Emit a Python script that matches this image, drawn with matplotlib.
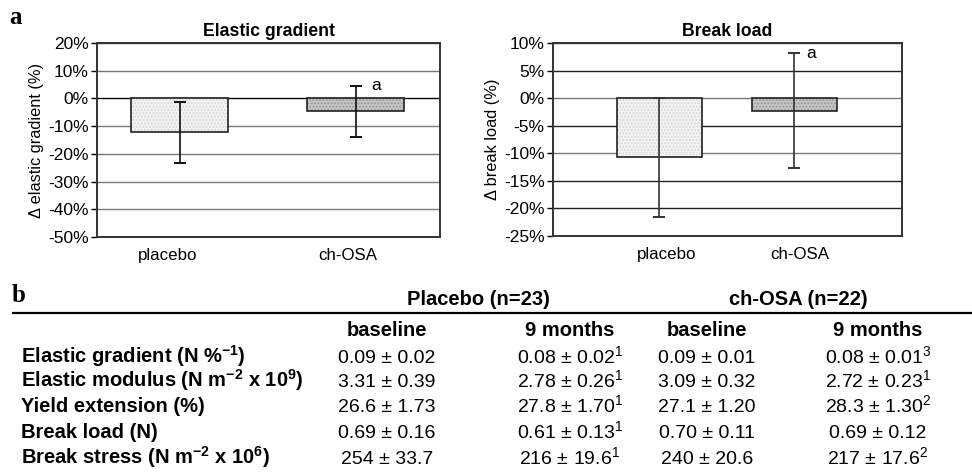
import matplotlib
matplotlib.use("Agg")
import matplotlib.pyplot as plt
from matplotlib.lines import Line2D

plt.rcParams['font.family'] = ['Liberation Sans', 'DejaVu Sans']
plt.rcParams['mathtext.fontset'] = 'custom'
plt.rcParams['mathtext.rm'] = 'Liberation Sans'
plt.rcParams['mathtext.it'] = 'Liberation Sans:italic'
plt.rcParams['mathtext.bf'] = 'Liberation Sans:bold'

# ---------------- data ----------------
categories = ['placebo', 'ch-OSA']
eg_mean = [-12.2, -4.7]
eg_err = [11.0, 9.2]
bl_mean = [-10.7, -2.3]
bl_err = [10.8, 10.4]
eg_ticks = [20, 10, 0, -10, -20, -30, -40, -50]
bl_ticks = [10, 5, 0, -5, -10, -15, -20, -25]
sig_label = ['', 'a']

group_headers = ['Placebo (n=23)', 'ch-OSA (n=22)']
sub_headers = ['baseline', '9 months', 'baseline', '9 months']
row_labels = [
    r'Elastic gradient (N %$^{\mathbf{-1}}$)',
    r'Elastic modulus (N m$^{\mathbf{-2}}$ x 10$^{\mathbf{9}}$)',
    'Yield extension (%)',
    'Break load (N)',
    r'Break stress (N m$^{\mathbf{-2}}$ x 10$^{\mathbf{6}}$)',
]
placebo_base = ['0.09 ± 0.02', '3.31 ± 0.39', '26.6 ± 1.73', '0.69 ± 0.16', '254 ± 33.7']
placebo_9m = ['0.08 ± 0.02', '2.78 ± 0.26', '27.8 ± 1.70', '0.61 ± 0.13', '216 ± 19.6']
placebo_9m_sup = ['1', '1', '1', '1', '1']
osa_base = ['0.09 ± 0.01', '3.09 ± 0.32', '27.1 ± 1.20', '0.70 ± 0.11', '240 ± 20.6']
osa_9m = ['0.08 ± 0.01', '2.72 ± 0.23', '28.3 ± 1.30', '0.69 ± 0.12', '217 ± 17.6']
osa_9m_sup = ['3', '1', '2', '', '2']

W, H = 972, 472
fig = plt.figure(figsize=(W / 100, H / 100), dpi=100)


def fx(px):
    return px / W


def fy(py):
    return 1 - py / H


def bar_panel(rect, means, errs, ticks, xlim, width, label_shift, title,
              ylabel, grid_colors, err_color):
    ax = fig.add_axes(rect)
    x = list(range(len(categories)))
    face = ['#f3f3f3', '#c6c6c6']
    hatchc = ['#d8d8d8', '#9a9a9a']
    for i in x:
        ax.bar(i, means[i], width, color=face[i], edgecolor=hatchc[i],
               hatch='.....', linewidth=0, zorder=2)
        ax.bar(i, means[i], width, fill=False, edgecolor='#222222',
               linewidth=1.2, zorder=3)
    ax.errorbar(x, means, yerr=errs, fmt='none', ecolor=err_color,
                elinewidth=1.2, capsize=4, capthick=1.4, zorder=4)
    for t, c in zip(ticks, grid_colors):
        ax.axhline(t, color=c, linewidth=1.0, zorder=1)
    for i in x:
        if sig_label[i]:
            ax.text(i + 0.09, means[i] + errs[i], sig_label[i],
                    fontsize=12.5, ha='left', va='center')
    ax.set_xlim(*xlim)
    ax.set_ylim(ticks[-1], ticks[0])
    ax.set_yticks(ticks)
    ax.set_yticklabels([f'{t}%' for t in ticks], fontsize=12.5)
    ax.set_xticks([i + s for i, s in zip(x, label_shift)])
    ax.set_xticklabels(categories, fontsize=12.2)
    ax.tick_params(axis='x', length=0, pad=8)
    ax.tick_params(axis='y', length=4, width=1, direction='out', pad=2)
    for s in ax.spines.values():
        s.set_linewidth(1.4)
        s.set_color('#333333')
    ax.set_title(title, fontsize=12.7, fontweight='bold', pad=5)
    ax.set_ylabel(ylabel, fontsize=11.8, labelpad=3)
    return ax


bar_panel([fx(97), fy(237), fx(343), (237 - 43) / H], eg_mean, eg_err,
          eg_ticks, (-0.47, 1.48), 0.55, (-0.07, -0.045), 'Elastic gradient',
          'Δ elastic gradient (%)',
          ['#333333', '#777777', '#000000', '#777777', '#777777',
           '#777777', '#777777', '#333333'], '#111111')
bar_panel([fx(553), fy(236), fx(349), (236 - 43) / H], bl_mean, bl_err,
          bl_ticks, (-0.79, 1.80), 0.63, (0.05, 0.04), 'Break load',
          'Δ break load (%)',
          ['#333333', '#222222', '#777777', '#222222', '#777777',
           '#222222', '#222222', '#333333'], '#333333')

# panel letters
fig.text(fx(9), fy(17), 'a', fontsize=18, fontweight='bold',
         family='Liberation Serif', ha='left', va='center')
fig.text(fx(12), fy(295), 'b', fontsize=18, fontweight='bold',
         family='Liberation Serif', ha='left', va='center')

# table
fig.add_artist(Line2D([fx(13), fx(972)], [fy(313), fy(313)],
                      color='black', linewidth=1.6))
group_x = [478, 798]
for gx, g in zip(group_x, group_headers):
    fig.text(fx(gx), fy(305), g, fontsize=14.5, fontweight='bold',
             ha='center', va='baseline')
col_x = [387, 570, 707, 878]
for cx, s in zip(col_x, sub_headers):
    fig.text(fx(cx), fy(336), s, fontsize=14.5, fontweight='bold',
             ha='center', va='baseline')
row_y = [363, 387, 412, 438, 464]
for ry, lab in zip(row_y, row_labels):
    fig.text(fx(21), fy(ry), lab, fontsize=14.5, fontweight='bold',
             ha='left', va='baseline')


def sup(v, s):
    return v + (f'$^{{{s}}}$' if s else '')


cols = [
    placebo_base,
    [sup(v, s) for v, s in zip(placebo_9m, placebo_9m_sup)],
    osa_base,
    [sup(v, s) for v, s in zip(osa_9m, osa_9m_sup)],
]
for cx, col in zip(col_x, cols):
    for ry, v in zip(row_y, col):
        fig.text(fx(cx), fy(ry), v, fontsize=14, ha='center', va='baseline')

fig.savefig('out.png', dpi=100)
